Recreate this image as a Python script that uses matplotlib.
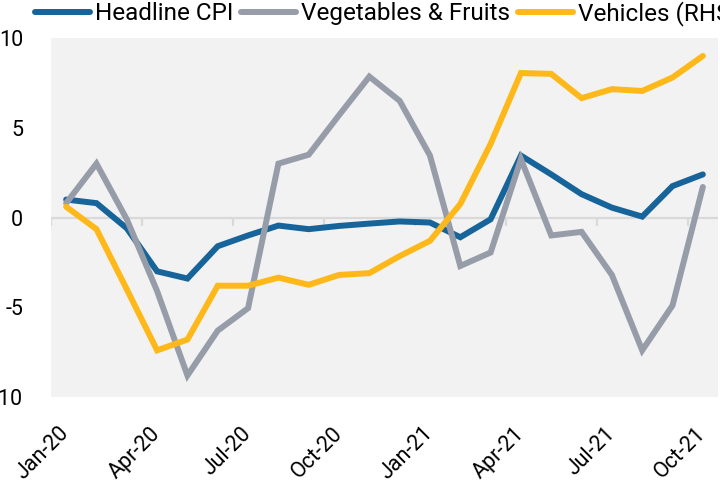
import matplotlib
matplotlib.use("Agg")
import matplotlib.pyplot as plt
import numpy as np

plt.rcParams["font.family"] = ["Roboto", "DejaVu Sans"]

months = ["Jan-20", "Feb-20", "Mar-20", "Apr-20", "May-20", "Jun-20", "Jul-20",
          "Aug-20", "Sep-20", "Oct-20", "Nov-20", "Dec-20", "Jan-21", "Feb-21",
          "Mar-21", "Apr-21", "May-21", "Jun-21", "Jul-21", "Aug-21", "Sep-21",
          "Oct-21"]
headline_cpi = [1.0, 0.8, -0.6, -3.0, -3.4, -1.6, -1.0, -0.45, -0.65, -0.47,
                -0.34, -0.22, -0.28, -1.1, -0.1, 3.45, 2.4, 1.3, 0.55, 0.05,
                1.75, 2.4]
veg_fruits = [0.8, 3.0, -0.1, -4.1, -8.8, -6.3, -5.05, 3.0, 3.5, 5.7, 7.85,
              6.5, 3.45, -2.7, -1.95, 3.25, -1.0, -0.8, -3.2, -7.4, -4.9, 1.7]
vehicles = [0.6, -0.65, -4.0, -7.4, -6.8, -3.8, -3.8, -3.35, -3.75, -3.2,
            -3.1, -2.15, -1.3, 0.75, 4.1, 8.05, 8.0, 6.65, 7.15, 7.05, 7.8, 9.0]
series_names = ["Headline CPI", "Vegetables & Fruits", "Vehicles (RHS)"]
colors = ["#17649A", "#979CA9", "#FEB819"]

x = np.arange(len(months))

fig = plt.figure(figsize=(7.2, 4.83), dpi=100)
ax = fig.add_axes([51 / 720, 1 - 397 / 483, 667 / 720, 359 / 483])
ax.set_facecolor("#F2F2F2")

# zero line with quarterly ticks between categories
ax.axhline(0, color="#D9D9D9", lw=1.6, zorder=1)
ax.vlines(np.arange(-0.5, len(months), 3), -0.45, 0, color="#D9D9D9", lw=1.6, zorder=1)

for vals, name, c in zip([headline_cpi, veg_fruits, vehicles], series_names, colors):
    ax.plot(x, vals, color=c, lw=4.3, solid_capstyle="round",
            solid_joinstyle="miter", label=name, zorder=3)

ax.set_xlim(-0.5, len(months) - 0.5)
ax.set_ylim(-10, 10)
ax.set_yticks([-10, -5, 0, 5, 10])
ax.set_yticklabels(["-10", "-5", "0", "5", "10"])
ax.set_xticks(x[::3])
ax.set_xticklabels(months[::3], rotation=45, ha="right", va="center",
                   rotation_mode="anchor")
ax.tick_params(axis="both", length=0, labelsize=15.5)
ax.tick_params(axis="x", pad=24)
ax.tick_params(axis="y", pad=20)
for s in ax.spines.values():
    s.set_visible(False)

fig.legend(loc="upper left", bbox_to_anchor=(35 / 720, 1 - 1 / 483), ncol=3,
           frameon=False, fontsize=17.5, handlelength=2.25, handletextpad=0.2,
           columnspacing=0.35, borderpad=0, borderaxespad=0)

fig.savefig("out.png", dpi=100)
